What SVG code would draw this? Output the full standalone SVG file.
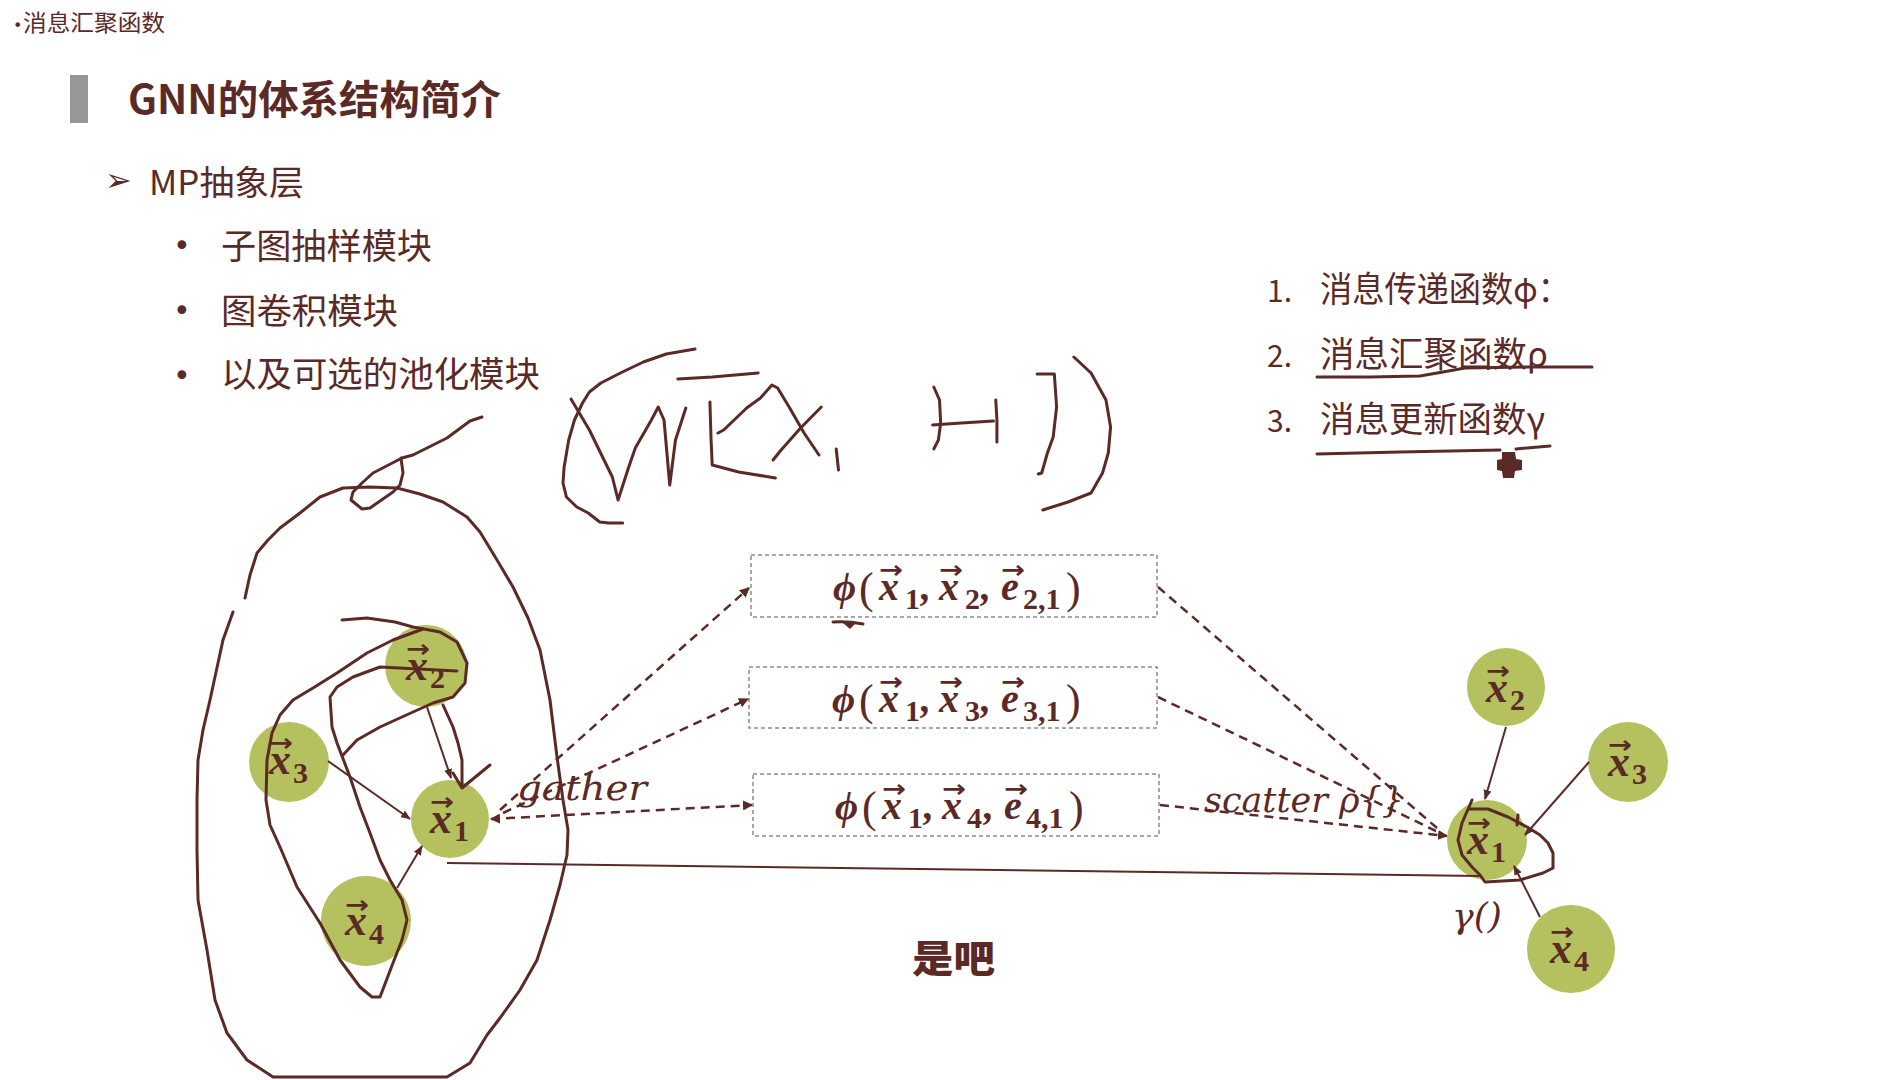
<svg xmlns="http://www.w3.org/2000/svg" width="1904" height="1080" viewBox="0 0 1904 1080">
<style>
.t{fill:#5c2a26;font-family:"Noto Sans CJK SC","Noto Sans",sans-serif}
.b{font-weight:bold}
.hw{fill:none;stroke:#5c2a26;stroke-width:3;stroke-linecap:round;stroke-linejoin:round}
.nd{fill:#b5c05e}
.mx{fill:#5c2a26;font-family:"Liberation Serif","DejaVu Serif",serif;font-style:italic;font-weight:bold;font-size:44px}
.ms{fill:#5c2a26;font-family:"Liberation Serif","DejaVu Serif",serif;font-weight:bold;font-size:30px}
.ar{fill:#5c2a26;font-family:"DejaVu Sans",sans-serif;font-weight:bold;font-size:24px}
.bm{fill:#5c2a26;font-family:"Liberation Serif","DejaVu Serif",serif;font-style:italic;font-weight:bold;font-size:40px}
.bs{font-style:normal;font-size:30px}
.bp{font-style:normal;font-weight:normal;font-size:44px}
.box{fill:none;stroke:#8c8c8c;stroke-width:1.5;stroke-dasharray:4 3}
.dash{fill:none;stroke:#5c2a26;stroke-width:2.5;stroke-dasharray:9 6}
.edge{fill:none;stroke:#5c2a26;stroke-width:2}
.it{fill:#5c2a26;font-family:"DejaVu Serif",serif;font-style:italic;font-size:36px}
.bul{fill:#5c2a26;font-family:"DejaVu Sans",sans-serif;font-size:30px}
</style>
<defs>
<marker id="ah" viewBox="0 0 10 10" refX="9" refY="5" markerWidth="4" markerHeight="4" orient="auto-start-reverse"><path d="M0,0 L10,5 L0,10 z" fill="#5c2a26"/></marker>
<marker id="sa" viewBox="0 0 10 10" refX="9" refY="5" markerWidth="5" markerHeight="5" orient="auto"><path d="M0,1 L10,5 L0,9 z" fill="#5c2a26"/></marker>
</defs>
<rect width="1904" height="1080" fill="#ffffff"/>

<!-- header texts -->
<g id="header">
<text class="t" x="13" y="31" font-size="23"><tspan font-family="DejaVu Sans,sans-serif" font-size="16">•</tspan><tspan x="23" textLength="142" lengthAdjust="spacingAndGlyphs">消息汇聚函数</tspan></text>
<rect x="70" y="75" width="18" height="48" fill="#979797"/>
<text class="t b" x="128" y="114" font-size="40" textLength="373" lengthAdjust="spacingAndGlyphs">GNN的体系结构简介</text>
<text x="105" y="191" fill="#5c2a26" font-family="DejaVu Sans,sans-serif" font-size="32">➢</text>
<text class="t" x="149" y="195" font-size="34" textLength="155" lengthAdjust="spacingAndGlyphs">MP抽象层</text>
<text class="bul" x="173" y="256">•</text>
<text class="t" x="221" y="259" font-size="35" textLength="211" lengthAdjust="spacingAndGlyphs">子图抽样模块</text>
<text class="bul" x="173" y="321">•</text>
<text class="t" x="221" y="324" font-size="35" textLength="177" lengthAdjust="spacingAndGlyphs">图卷积模块</text>
<text class="bul" x="173" y="386">•</text>
<text class="t" x="221" y="387" font-size="35" textLength="319" lengthAdjust="spacingAndGlyphs">以及可选的池化模块</text>
</g>

<g id="fn-list">
<text class="t" x="1267" y="302" font-size="30">1.</text>
<text class="t" x="1320" y="302" font-size="35" textLength="250" lengthAdjust="spacingAndGlyphs">消息传递函数φ：</text>
<text class="t" x="1267" y="367" font-size="30">2.</text>
<text class="t" x="1320" y="367" font-size="35" textLength="228" lengthAdjust="spacingAndGlyphs">消息汇聚函数ρ</text>
<text class="t" x="1267" y="432" font-size="30">3.</text>
<text class="t" x="1320" y="432" font-size="35" textLength="225" lengthAdjust="spacingAndGlyphs">消息更新函数γ</text>
</g>

<!-- dashed boxes -->
<g id="box1">
<rect class="box" x="751" y="555" width="406" height="62"/>
<text class="bm"><tspan x="833" y="600">ϕ</tspan><tspan class="bp" x="859" y="603">(</tspan><tspan x="879" y="600">x</tspan><tspan class="bs" x="905" y="609">1</tspan><tspan x="921" y="600">,</tspan><tspan x="939" y="600">x</tspan><tspan class="bs" x="965" y="609">2</tspan><tspan x="981" y="600">,</tspan><tspan x="1001" y="600">e</tspan><tspan class="bs" x="1023" y="609">2,1</tspan><tspan class="bp" x="1066" y="603">)</tspan></text>
<text class="ar" x="879" y="578" textLength="24" lengthAdjust="spacingAndGlyphs">→</text>
<text class="ar" x="939" y="578" textLength="24" lengthAdjust="spacingAndGlyphs">→</text>
<text class="ar" x="1001" y="578" textLength="24" lengthAdjust="spacingAndGlyphs">→</text>
</g>
<g id="box2">
<rect class="box" x="749" y="667" width="408" height="61"/>
<text class="bm"><tspan x="832" y="712">ϕ</tspan><tspan class="bp" x="859" y="715">(</tspan><tspan x="879" y="712">x</tspan><tspan class="bs" x="905" y="721">1</tspan><tspan x="921" y="712">,</tspan><tspan x="939" y="712">x</tspan><tspan class="bs" x="965" y="721">3</tspan><tspan x="981" y="712">,</tspan><tspan x="1001" y="712">e</tspan><tspan class="bs" x="1023" y="721">3,1</tspan><tspan class="bp" x="1066" y="715">)</tspan></text>
<text class="ar" x="879" y="690" textLength="24" lengthAdjust="spacingAndGlyphs">→</text>
<text class="ar" x="939" y="690" textLength="24" lengthAdjust="spacingAndGlyphs">→</text>
<text class="ar" x="1001" y="690" textLength="24" lengthAdjust="spacingAndGlyphs">→</text>
</g>
<g id="box3">
<rect class="box" x="753" y="774" width="406" height="62"/>
<text class="bm"><tspan x="835" y="819">ϕ</tspan><tspan class="bp" x="862" y="822">(</tspan><tspan x="882" y="819">x</tspan><tspan class="bs" x="908" y="828">1</tspan><tspan x="924" y="819">,</tspan><tspan x="942" y="819">x</tspan><tspan class="bs" x="967" y="828">4</tspan><tspan x="984" y="819">,</tspan><tspan x="1004" y="819">e</tspan><tspan class="bs" x="1026" y="828">4,1</tspan><tspan class="bp" x="1069" y="822">)</tspan></text>
<text class="ar" x="882" y="797" textLength="24" lengthAdjust="spacingAndGlyphs">→</text>
<text class="ar" x="942" y="797" textLength="24" lengthAdjust="spacingAndGlyphs">→</text>
<text class="ar" x="1004" y="797" textLength="24" lengthAdjust="spacingAndGlyphs">→</text>
</g>

<!-- left graph nodes -->
<g id="L-x2"><circle class="nd" cx="426" cy="666" r="41"/><text class="mx" x="406" y="680">x</text><text class="ms" x="430" y="688">2</text><text class="ar" x="406" y="657" textLength="24" lengthAdjust="spacingAndGlyphs">→</text></g>
<g id="L-x3"><circle class="nd" cx="289" cy="762" r="40"/><text class="mx" x="269" y="774">x</text><text class="ms" x="293" y="783">3</text><text class="ar" x="269" y="751" textLength="24" lengthAdjust="spacingAndGlyphs">→</text></g>
<g id="L-x1"><circle class="nd" cx="450" cy="819" r="39"/><text class="mx" x="430" y="833">x</text><text class="ms" x="454" y="841">1</text><text class="ar" x="430" y="810" textLength="24" lengthAdjust="spacingAndGlyphs">→</text></g>
<g id="L-x4"><circle class="nd" cx="366" cy="921" r="45"/><text class="mx" x="345" y="935">x</text><text class="ms" x="369" y="944">4</text><text class="ar" x="345" y="913" textLength="24" lengthAdjust="spacingAndGlyphs">→</text></g>

<!-- right graph nodes -->
<g id="R-x2"><circle class="nd" cx="1506" cy="687" r="39"/><text class="mx" x="1486" y="702">x</text><text class="ms" x="1510" y="710">2</text><text class="ar" x="1486" y="679" textLength="24" lengthAdjust="spacingAndGlyphs">→</text></g>
<g id="R-x3"><circle class="nd" cx="1628" cy="762" r="40"/><text class="mx" x="1608" y="776">x</text><text class="ms" x="1632" y="784">3</text><text class="ar" x="1608" y="753" textLength="24" lengthAdjust="spacingAndGlyphs">→</text></g>
<g id="R-x1"><circle class="nd" cx="1487" cy="840" r="40"/><text class="mx" x="1467" y="854">x</text><text class="ms" x="1491" y="862">1</text><text class="ar" x="1467" y="831" textLength="24" lengthAdjust="spacingAndGlyphs">→</text></g>
<g id="R-x4"><circle class="nd" cx="1571" cy="949" r="44"/><text class="mx" x="1550" y="963">x</text><text class="ms" x="1574" y="971">4</text><text class="ar" x="1550" y="940" textLength="24" lengthAdjust="spacingAndGlyphs">→</text></g>

<!-- connectors -->
<g id="connectors">
<path class="edge" marker-end="url(#sa)" d="M427,707 L451,778"/>
<path class="edge" marker-end="url(#sa)" d="M328,761 L410,819"/>
<path class="edge" marker-end="url(#sa)" d="M397,888 L422,846"/>
<path class="edge" marker-end="url(#sa)" d="M1506,727 L1485,799"/>
<path class="edge" marker-end="url(#sa)" d="M1589,762 L1525,835"/>
<path class="edge" marker-end="url(#sa)" d="M1540,917 L1514,866"/>
<path class="dash" marker-end="url(#ah)" d="M500,810 L749,588"/>
<path class="dash" marker-end="url(#ah)" d="M503,813 L748,699"/>
<path class="dash" marker-start="url(#ah)" marker-end="url(#ah)" d="M491,819 L752,805"/>
<path class="dash" d="M1158,587 L1437,828"/>
<path class="dash" d="M1158,697 L1436,831"/>
<path class="dash" marker-end="url(#ah)" d="M1160,805 L1447,836"/>
<path class="edge" stroke-width="2.5" d="M447,863 L1480,876"/>
</g>

<g id="labels">
<text class="it" x="517" y="800" textLength="130" lengthAdjust="spacingAndGlyphs">gather</text>
<text class="it" x="1204" y="812" textLength="200" lengthAdjust="spacingAndGlyphs">scatter ρ{}</text>
<text class="it" x="1452" y="928" font-size="38" textLength="50" lengthAdjust="spacingAndGlyphs">γ()</text>
<text class="t" x="912" y="972" font-size="38" font-weight="900" textLength="83" lengthAdjust="spacingAndGlyphs">是吧</text>
</g>

<!-- handwriting -->
<g id="handwriting">
<g transform="matrix(1.148 0 0 1 -79.9 0)">
<path class="hw" vector-effect="non-scaling-stroke" d="M675,349 L650,354 L630,362 L610,373 L593,383 L583,392 L577,403 L570,420 L565,440 L561,467 L560,483 L563,497 L572,507 L582,513 L592,522 L600,523 L612,523"/>
<path class="hw" vector-effect="non-scaling-stroke" d="M567,399 L583,430 L603,477 L608,500 L617,468 L623,448 L637,420 L643,407 L648,420 L653,485 L655,467 L658,440 L667,408"/>
<path class="hw" vector-effect="non-scaling-stroke" d="M660,379 L690,377 L730,373"/>
<path class="hw" vector-effect="non-scaling-stroke" d="M688,402 L689,440 L690,465 L713,472 L745,478"/>
<path class="hw" vector-effect="non-scaling-stroke" d="M695,433 L700,430 L720,408 L732,398 L742,385 L747,388 L757,407 L770,433 L783,455"/>
<path class="hw" vector-effect="non-scaling-stroke" d="M785,407 L767,428 L750,450 L743,460"/>
<path class="hw" vector-effect="non-scaling-stroke" d="M798,449 L800,470"/>
<path class="hw" vector-effect="non-scaling-stroke" d="M883,387 L888,400 L889,423 L887,440 L883,449"/>
<path class="hw" vector-effect="non-scaling-stroke" d="M882,425 L907,423 L935,421"/>
<path class="hw" vector-effect="non-scaling-stroke" d="M937,400 L938,420 L938,442"/>
<path class="hw" vector-effect="non-scaling-stroke" d="M973,374 L988,374 L990,407 L987,437 L982,453 L977,473 L974,474"/>
<path class="hw" vector-effect="non-scaling-stroke" d="M1005,357 L1020,373 L1033,400 L1037,427 L1035,453 L1030,473 L1020,493 L1000,502 L978,510"/>
</g>
<path class="hw" d="M482,417 L470,421 L447,438 L413,455 L402,458 L373,473 L362,483 L353,492 L351,500 L362,509 L370,508 L393,492 L400,485 L403,473 L401,458"/>
<path class="hw" d="M245,598 L250,575 L257,553 L268,540 L280,528 L300,513 L320,497 L343,488 L370,487 L397,488 L420,494 L443,502 L467,517 L480,532 L497,560 L513,587 L528,618 L540,650 L550,700 L557,757 L563,800 L568,830 L567,855 L560,885 L550,920 L537,960 L520,990 L500,1018 L487,1035 L470,1063 L447,1077 L273,1077 L247,1060 L227,1033 L215,1000 L207,950 L198,900 L197,850 L197,800 L198,760 L203,730 L210,700 L223,640 L233,612"/>
<path class="hw" d="M342,620 L367,618 L395,622 L413,627 L440,632 L457,642 L467,663 L465,683 L453,697 L433,703 L413,712 L380,727 L357,740 L343,755"/>
<path class="hw" d="M423,629 L393,640 L367,653 L337,673 L313,688 L293,700 L280,715 L272,733 L267,760 L266,800 L270,825 L280,847 L297,887 L320,923 L340,960 L360,987 L372,997 L380,997 L393,963 L402,940 L407,920 L402,900 L390,880 L380,860 L370,833 L360,807 L350,777 L337,743 L332,727 L330,697 L337,687 L353,677 L380,667 L457,671"/>
<path class="hw" d="M443,705 L453,727 L458,743 L462,760 L462,787"/>
<path class="hw" d="M453,773 L462,788 L490,765"/>
<path class="hw" d="M1472,800 L1462,823 L1458,840 L1462,855 L1472,867 L1480,875 L1485,882 L1520,880 L1543,873 L1553,868 L1553,853 L1548,843 L1540,835 L1527,827 L1508,817 L1488,809 L1470,809"/>
<path class="hw" d="M1518,815 L1517,825"/>
<path class="hw" d="M1317,377 L1370,377 L1420,376 L1443,372 L1465,368 L1530,367 L1592,367"/>
<path class="hw" d="M1317,454 L1400,452 L1500,450"/>
<path class="hw" d="M1516,449 L1550,446"/>
<path d="M1502,452 L1515,452 L1516,459 L1522,460 L1522,470 L1515,471 L1514,478 L1503,478 L1502,471 L1497,470 L1497,460 L1502,459 Z" fill="#5c2a26"/>
<path class="hw" stroke-width="4" d="M833,622 Q848,621 863,624"/>
<path d="M843,623 L856,623 L850,629 Z" fill="#5c2a26"/>
</g>
</svg>
